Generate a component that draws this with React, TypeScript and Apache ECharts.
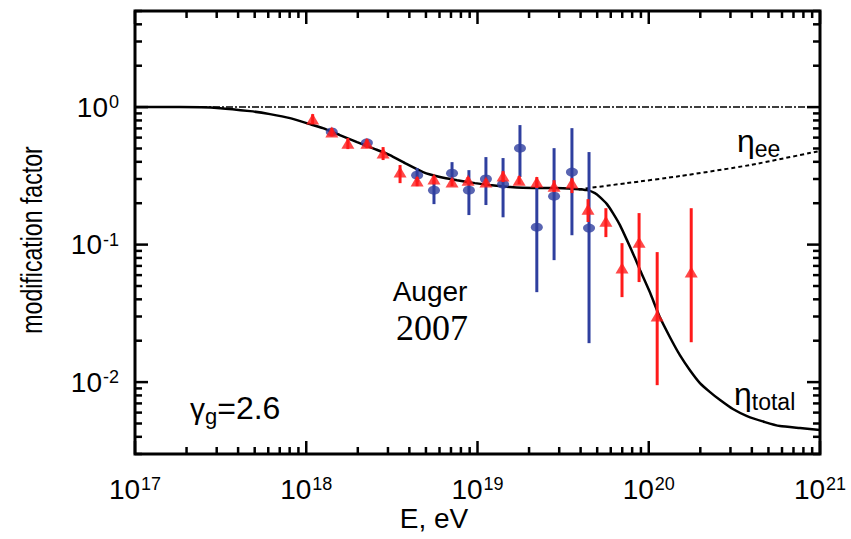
import React, { useEffect, useRef } from 'react';
import * as echarts from 'echarts';

const SANS = '"Liberation Sans", Arial, Helvetica, sans-serif';
const SERIF = '"Liberation Serif", "Times New Roman", serif';

const X_MIN = 1e17;
const X_MAX = 1e21;
const Y_MIN = 0.003;
const Y_MAX = 5;

const xDecades = [17, 18, 19, 20, 21];
const yDecades = [-3, -2, -1, 0];
const minorMult = [2, 3, 4, 5, 6, 7, 8, 9];

// eta_total curve
const totalE = [1e17, 1.83e17, 3.14e17, 4.70e17, 6.14e17, 8.04e17, 1.05e18, 1.25e18, 1.57e18, 1.98e18, 2.52e18, 3.08e18, 3.77e18, 4.81e18, 6.04e18, 7.59e18, 9.66e18, 1.18e19, 1.55e19, 2.11e19, 2.84e19, 3.71e19, 4.36e19, 4.85e19, 5.19e19, 5.70e19, 6.18e19, 6.79e19, 7.46e19, 8.31e19, 8.89e19, 1.02e20, 1.16e20, 1.33e20, 1.52e20, 1.74e20, 1.99e20, 2.28e20, 2.61e20, 3.10e20, 3.75e20, 4.77e20, 5.84e20, 7.64e20, 1e21];
const totalF = [1.0, 1.0, 0.983, 0.935, 0.889, 0.832, 0.752, 0.703, 0.626, 0.556, 0.495, 0.448, 0.392, 0.337, 0.310, 0.294, 0.280, 0.271, 0.262, 0.258, 0.258, 0.254, 0.249, 0.237, 0.2215, 0.197, 0.1695, 0.1386, 0.1078, 0.0798, 0.0653, 0.0444, 0.0297, 0.0212, 0.0157, 0.0122, 0.00984, 0.00846, 0.0074, 0.00637, 0.00566, 0.00512, 0.00479, 0.00463, 0.00448];

// eta_ee branch
const eeE = [3.9e19, 7.46e19, 1.52e20, 3.9e20, 1e21];
const eeF = [0.252, 0.28, 0.315, 0.379, 0.48];

// unity reference
const unityE = [1e17, 1e21];
const unityF = [1, 1];

// red triangles (Auger)
const redE = [1.09e18, 1.41e18, 1.75e18, 2.26e18, 2.81e18, 3.53e18, 4.44e18, 5.57e18, 7.10e18, 8.81e18, 1.12e19, 1.41e19, 1.75e19, 2.22e19, 2.80e19, 3.56e19, 4.42e19, 5.62e19, 6.98e19, 8.78e19, 1.12e20, 1.77e20];
const redF = [0.818, 0.658, 0.547, 0.547, 0.463, 0.337, 0.290, 0.300, 0.285, 0.294, 0.285, 0.315, 0.294, 0.285, 0.266, 0.280, 0.181, 0.148, 0.0675, 0.104, 0.0302, 0.0631];
const redHi = [0.889, 0.704, 0.595, 0.585, 0.512, 0.379, 0.310, 0.315, 0.300, 0.310, 0.300, 0.342, 0.315, 0.310, 0.294, 0.304, 0.214, 0.184, 0.1025, 0.1695, 0.0882, 0.184];
const redLo = [0.752, 0.615, 0.495, 0.503, 0.412, 0.280, 0.266, 0.275, 0.266, 0.275, 0.266, 0.285, 0.275, 0.258, 0.241, 0.237, 0.146, 0.1134, 0.0415, 0.0534, 0.0095, 0.0195];

// blue circles
const blueE = [1.41e18, 2.26e18, 4.44e18, 5.57e18, 7.10e18, 8.91e18, 1.12e19, 1.41e19, 1.77e19, 2.22e19, 2.80e19, 3.56e19, 4.48e19];
const blueF = [0.66, 0.55, 0.320, 0.249, 0.331, 0.249, 0.300, 0.275, 0.503, 0.134, 0.225, 0.337, 0.132];
const blueHi = [0.70, 0.58, 0.360, 0.294, 0.398, 0.348, 0.433, 0.426, 0.740, 0.294, 0.503, 0.703, 0.471];
const blueLo = [0.62, 0.52, 0.285, 0.197, 0.285, 0.164, 0.194, 0.158, 0.310, 0.0451, 0.0771, 0.117, 0.0192];

const RED = '#ff1a1a';
const BLUE = '#2f3f9f';

function buildTicks(decades: number[], lo: number, hi: number) {
  const out: [number, number][] = [];
  decades.forEach((d) => {
    const base = Math.pow(10, d);
    if (base >= lo * 0.999 && base <= hi * 1.001) out.push([base, 1]);
    minorMult.forEach((m) => {
      const v = m * base;
      if (v >= lo * 0.999 && v <= hi * 1.001) out.push([v, 0]);
    });
  });
  return out;
}

function labelFormatter(v: number) {
  const lg = Math.log10(v);
  const n = Math.round(lg);
  if (Math.abs(lg - n) > 1e-6) return '';
  return `{b|10}{s|${n}}`;
}

const labelRich = {
  b: { fontSize: 28, fontFamily: SANS, color: '#000' },
  s: { fontSize: 18, fontFamily: SANS, color: '#000', verticalAlign: 'top', padding: [0, 0, 0, 1] },
};

export default function App() {
  const ref = useRef<HTMLDivElement>(null);
  useEffect(() => {
    if (!ref.current) return;
    const chart = echarts.init(ref.current, undefined, { renderer: 'svg' });

    const xTicks = buildTicks(xDecades, X_MIN, X_MAX).map((t) => [t[0], Y_MIN, t[1]]);
    const yTicks = buildTicks(yDecades, Y_MIN, Y_MAX).map((t) => [X_MIN, t[0], t[1]]);
    const MAJ = 13;
    const MIN = 7;

    const errRender = (color: string) => (params: any, api: any) => {
      const x = api.value(0);
      const p1 = api.coord([x, api.value(1)]);
      const p2 = api.coord([x, api.value(2)]);
      return {
        type: 'line',
        shape: { x1: p1[0], y1: p1[1], x2: p2[0], y2: p2[1] },
        style: { stroke: color, lineWidth: 3 },
      };
    };

    const option: any = {
      animation: false,
      backgroundColor: '#fff',
      grid: {
        left: 135, right: 31, top: 11, bottom: 85,
        show: true, borderColor: '#000', borderWidth: 3, backgroundColor: 'transparent',
      },
      xAxis: {
        type: 'log', logBase: 10, min: X_MIN, max: X_MAX,
        axisLine: { show: false }, axisTick: { show: false }, splitLine: { show: false },
        axisLabel: { formatter: labelFormatter, rich: labelRich, margin: 21, color: '#000' },
      },
      yAxis: {
        type: 'log', logBase: 10, min: Y_MIN, max: Y_MAX,
        axisLine: { show: false }, axisTick: { show: false }, splitLine: { show: false },
        axisLabel: { formatter: labelFormatter, rich: labelRich, margin: 16, color: '#000', showMinLabel: false, showMaxLabel: false },
      },
      series: [
        {
          type: 'line', data: unityE.map((e, i) => [e, unityF[i]]), showSymbol: false, symbol: 'none',
          lineStyle: { color: '#000', width: 1.5, type: [7, 2, 2, 2] }, z: 2,
        },
        {
          type: 'line', data: eeE.map((e, i) => [e, eeF[i]]), showSymbol: false, symbol: 'none', smooth: 0.2,
          lineStyle: { color: '#000', width: 2, type: [4, 3] }, z: 2,
        },
        {
          type: 'line', data: totalE.map((e, i) => [e, totalF[i]]), showSymbol: false, symbol: 'none', smooth: 0.15,
          lineStyle: { color: '#000', width: 2.5 }, z: 2,
        },
        {
          type: 'custom', data: blueE.map((e, i) => [e, blueLo[i], blueHi[i]]),
          encode: { x: 0, y: [1, 2] }, renderItem: errRender(BLUE), z: 3,
        },
        {
          type: 'scatter', data: blueE.map((e, i) => [e, blueF[i]]), symbol: 'circle', symbolSize: [12, 9],
          itemStyle: { color: BLUE }, z: 4,
        },
        {
          type: 'custom', data: redE.map((e, i) => [e, redLo[i], redHi[i]]),
          encode: { x: 0, y: [1, 2] }, renderItem: errRender(RED), z: 5,
        },
        {
          type: 'scatter', data: redE.map((e, i) => [e, redF[i]]), symbol: 'triangle', symbolSize: [13, 11],
          itemStyle: { color: RED }, z: 6,
        },
        {
          type: 'custom', data: xTicks, encode: { x: 0, y: 1 }, clip: false, z: 10,
          renderItem: (params: any, api: any) => {
            const v = api.value(0);
            const b = api.coord([v, Y_MIN]);
            const t = api.coord([v, Y_MAX]);
            const len = api.value(2) ? MAJ : MIN;
            return {
              type: 'group',
              children: [
                { type: 'line', shape: { x1: b[0], y1: b[1], x2: b[0], y2: b[1] - len }, style: { stroke: '#000', lineWidth: 2.5 } },
                { type: 'line', shape: { x1: t[0], y1: t[1], x2: t[0], y2: t[1] + len }, style: { stroke: '#000', lineWidth: 2.5 } },
              ],
            };
          },
        },
        {
          type: 'custom', data: yTicks, encode: { x: 0, y: 1 }, clip: false, z: 10,
          renderItem: (params: any, api: any) => {
            const v = api.value(1);
            const l = api.coord([X_MIN, v]);
            const r = api.coord([X_MAX, v]);
            const len = api.value(2) ? MAJ : MIN;
            return {
              type: 'group',
              children: [
                { type: 'line', shape: { x1: l[0], y1: l[1], x2: l[0] + len, y2: l[1] }, style: { stroke: '#000', lineWidth: 2.5 } },
                { type: 'line', shape: { x1: r[0], y1: r[1], x2: r[0] - len, y2: r[1] }, style: { stroke: '#000', lineWidth: 2.5 } },
              ],
            };
          },
        },
      ],
      graphic: [
        {
          type: 'text', x: 32, y: 240, rotation: Math.PI / 2, scaleX: 0.77,
          style: { text: 'modification factor', font: `30px ${SANS}`, fill: '#000', align: 'center', verticalAlign: 'middle' },
        },
        {
          type: 'text', x: 434, y: 518,
          style: { text: 'E, eV', font: `28px ${SANS}`, fill: '#000', align: 'center', verticalAlign: 'middle' },
        },
        {
          type: 'text', x: 430, y: 291,
          style: { text: 'Auger', font: `28px ${SANS}`, fill: '#000', align: 'center', verticalAlign: 'middle' },
        },
        {
          type: 'text', x: 432, y: 328,
          style: { text: '2007', font: `36px ${SERIF}`, fill: '#000', align: 'center', verticalAlign: 'middle' },
        },
        {
          type: 'text', x: 190, y: 408,
          style: {
            text: '{a|γ}{b|g}{c|=2.6}', align: 'left', verticalAlign: 'middle',
            rich: {
              a: { fontSize: 30, fontFamily: SANS, fill: '#000', verticalAlign: 'middle' },
              b: { fontSize: 22, fontFamily: SANS, fill: '#000', verticalAlign: 'bottom', padding: [16, 0, 0, 0] },
              c: { fontSize: 32, fontFamily: SANS, fill: '#000', verticalAlign: 'middle' },
            },
          },
        },
        {
          type: 'text', x: 737, y: 141,
          style: {
            text: '{a|η}{b|ee}', align: 'left', verticalAlign: 'middle',
            rich: {
              a: { fontSize: 32, fontFamily: SANS, fill: '#000' },
              b: { fontSize: 23, fontFamily: SANS, fill: '#000', verticalAlign: 'bottom', padding: [16, 0, 0, 0] },
            },
          },
        },
        {
          type: 'text', x: 734, y: 394,
          style: {
            text: '{a|η}{b|total}', align: 'left', verticalAlign: 'middle',
            rich: {
              a: { fontSize: 32, fontFamily: SANS, fill: '#000' },
              b: { fontSize: 23, fontFamily: SANS, fill: '#000', verticalAlign: 'bottom', padding: [16, 0, 0, 0] },
            },
          },
        },
      ],
    };
    chart.setOption(option);
    return () => chart.dispose();
  }, []);
  return <div ref={ref} style={{ position: 'absolute', left: 0, top: 0, width: 851, height: 539 }} />;
}
